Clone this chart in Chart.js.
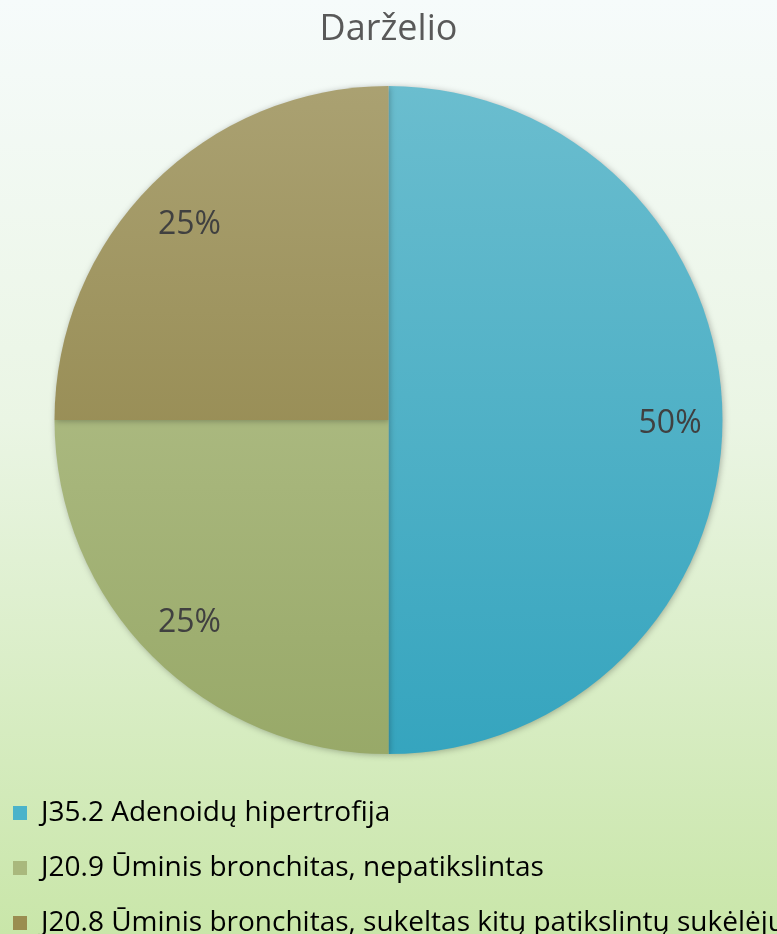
<!DOCTYPE html>
<html>
<head>
<meta charset="utf-8">
<script src="https://cdn.jsdelivr.net/npm/chart.js@4.4.1/dist/chart.umd.min.js"></script>
<style>
  html, body { margin: 0; padding: 0; }
  body {
    width: 777px; height: 934px; overflow: hidden;
    background: linear-gradient(to bottom, #f6fbfb 0%, #eaf5e4 45%, #c9e6a9 100%);
  }
  #wrap { position: relative; width: 777px; height: 934px; }
</style>
</head>
<body>
<div id="wrap"><canvas id="pie"></canvas></div>
<script>
const titleText = "Darželio";
const categories = [
  "J35.2 Adenoidų hipertrofija",
  "J20.9 Ūminis bronchitas, nepatikslintas",
  "J20.8 Ūminis bronchitas, sukeltas kitų patikslintų sukėlėjų"
];
const shares = [50, 25, 25];
const flatColors = ["#4bb3ca", "#a9b87d", "#9a8d50"];
const topColors = ["#6cbecf", "#bcc896", "#aba273"];
const bottomColors = ["#34a4be", "#97a867", "#887c3c"];

const FONT = "'Open Sans', 'Noto Sans', sans-serif";

function sliceFill(ctx) {
  const chart = ctx.chart;
  const area = chart.chartArea;
  const i = ctx.dataIndex;
  if (!area || i === undefined) return flatColors[i] || "#999";
  const g = chart.ctx.createLinearGradient(0, area.top, 0, area.bottom);
  g.addColorStop(0, topColors[i]);
  g.addColorStop(1, bottomColors[i]);
  return g;
}

const shadowPlugin = {
  id: "shadow",
  beforeDatasetDraw(chart) {
    const c = chart.ctx;
    c.save();
    c.shadowColor = "rgba(0,0,0,0.28)";
    c.shadowBlur = 6;
    c.shadowOffsetX = 1;
    c.shadowOffsetY = 1;
  },
  afterDatasetDraw(chart) {
    chart.ctx.restore();
  }
};

const pctLabels = {
  id: "pctLabels",
  afterDatasetsDraw(chart) {
    const c = chart.ctx;
    const meta = chart.getDatasetMeta(0);
    c.save();
    c.font = "32px " + FONT;
    c.fillStyle = "#404040";
    c.textAlign = "center";
    c.textBaseline = "middle";
    meta.data.forEach((arc, i) => {
      const p = arc.getProps(["x", "y", "startAngle", "endAngle", "outerRadius"], true);
      const mid = (p.startAngle + p.endAngle) / 2;
      const r = p.outerRadius * 0.843;
      // open sans sits a bit high with middle baseline
      c.fillText(shares[i] + "%", p.x + Math.cos(mid) * r, p.y + Math.sin(mid) * r + 4);
    });
    c.restore();
  }
};

new Chart(document.getElementById("pie"), {
  type: "pie",
  data: {
    labels: categories,
    datasets: [{
      data: shares,
      backgroundColor: sliceFill,
      borderWidth: 0,
      hoverOffset: 0,
      radius: 334
    }]
  },
  options: {
    responsive: true,
    maintainAspectRatio: false,
    animation: false,
    layout: { padding: { left: -14, right: -14, top: 0, bottom: -13 } },
    plugins: {
      tooltip: { enabled: false },
      title: {
        display: true,
        text: titleText,
        color: "#595959",
        font: { family: FONT, size: 36, weight: "normal" },
        padding: { top: 8, bottom: 17 }
      },
      legend: {
        position: "bottom",
        align: "start",
        labels: {
          font: { family: FONT, size: 28 },
          color: "#595959",
          boxWidth: 14,
          boxHeight: 14,
          padding: 27,
          generateLabels(chart) {
            return categories.map((text, i) => ({
              text,
              fillStyle: flatColors[i],
              strokeStyle: flatColors[i],
              lineWidth: 0,
              index: i
            }));
          }
        }
      }
    }
  },
  plugins: [shadowPlugin, pctLabels]
});
</script>
</body>
</html>
